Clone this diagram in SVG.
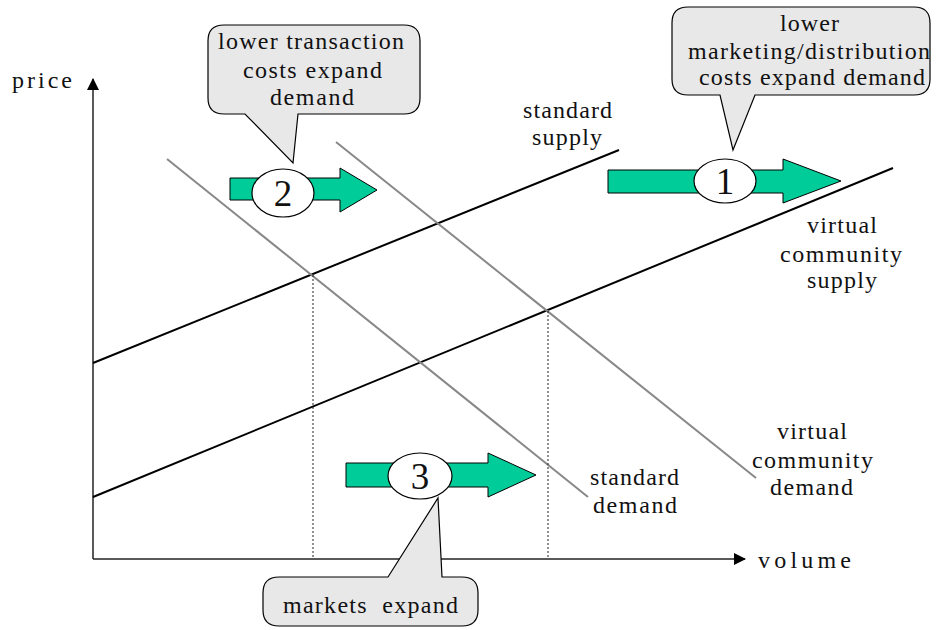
<svg xmlns="http://www.w3.org/2000/svg" width="937" height="630" viewBox="0 0 937 630">
<defs>
<style>
text{font-family:"Liberation Serif","Times New Roman",serif;fill:#111;font-size:24px}
.num{font-size:37px;text-anchor:middle}
.axis{stroke:#222;stroke-width:1.5;fill:none}
.supply{stroke:#000;stroke-width:2;fill:none}
.demand{stroke:#888;stroke-width:2;fill:none}
.drop{stroke:#222;stroke-width:1;stroke-dasharray:2,2;fill:none}
.arrow{fill:#00CC99;stroke:#000;stroke-width:1}
.badge{fill:#fff;stroke:#000;stroke-width:1.2}
.callout{fill:#E8E8E8;stroke:#000;stroke-width:1.2}
</style>
<marker id="ah" viewBox="0 0 12 12" refX="11" refY="6" markerWidth="12" markerHeight="12" markerUnits="userSpaceOnUse" orient="auto">
<path d="M0,0 L12,6 L0,12 Z" fill="#000"/>
</marker>
</defs>
<rect width="937" height="630" fill="#fff"/>
<g id="axes">
<line class="axis" x1="93" y1="559" x2="93" y2="79" marker-end="url(#ah)"/>
<line class="axis" x1="93" y1="559" x2="745" y2="559" marker-end="url(#ah)"/>
<text x="12" y="88" textLength="60">price</text>
<text x="758" y="568" textLength="93">volume</text>
</g>
<g id="connectors">
<line id="standard-supply" class="supply" x1="93" y1="363" x2="619" y2="150"/>
<line id="vc-supply" class="supply" x1="93" y1="497" x2="893" y2="168"/>
<line id="standard-demand" class="demand" x1="167" y1="159" x2="588" y2="497"/>
<line id="vc-demand" class="demand" x1="336" y1="142" x2="756" y2="478"/>
<line class="drop" x1="313" y1="275" x2="313" y2="559"/>
<line class="drop" x1="548" y1="311" x2="548" y2="559"/>
</g>
<g id="label-standard-supply">
<text x="523" y="118" textLength="89">standard</text>
<text x="532" y="145" textLength="70">supply</text>
</g>
<g id="label-vc-supply">
<text x="807" y="233" textLength="70">virtual</text>
<text x="780" y="262" textLength="122">community</text>
<text x="807" y="288" textLength="70">supply</text>
</g>
<g id="label-vc-demand">
<text x="777" y="439" textLength="70">virtual</text>
<text x="752" y="468" textLength="121">community</text>
<text x="770" y="495" textLength="83">demand</text>
</g>
<g id="label-standard-demand">
<text x="590" y="485" textLength="89">standard</text>
<text x="593" y="513" textLength="84">demand</text>
</g>
<g id="shift-2">
<polygon class="arrow" points="230,178 340,178 340,168 377,190 340,212 340,200 230,200"/>
<ellipse class="badge" cx="283" cy="193" rx="31" ry="24"/>
<text class="num" x="283" y="206">2</text>
</g>
<g id="shift-1">
<polygon class="arrow" points="608,170 783,170 783,159 841,181 783,203 783,193 608,193"/>
<ellipse class="badge" cx="725" cy="181" rx="31" ry="22"/>
<text class="num" x="725" y="194">1</text>
</g>
<g id="shift-3">
<polygon class="arrow" points="346,463 488,463 488,453 536,475 488,497 488,487 346,487"/>
<ellipse class="badge" cx="420" cy="476" rx="32" ry="23"/>
<text class="num" x="420" y="489">3</text>
</g>
<g id="callout-2">
<path class="callout" d="M224,25 H404 Q420,25 420,41 V98 Q420,114 404,114 H298 L293,163 L245,114 H224 Q208,114 208,98 V41 Q208,25 224,25 Z"/>
<text x="218" y="49" textLength="186">lower transaction</text>
<text x="243" y="78" textLength="139">costs expand</text>
<text x="270" y="105" textLength="84">demand</text>
</g>
<g id="callout-1">
<path class="callout" d="M688,7 H914 Q930,7 930,23 V79 Q930,95 914,95 H755 L733,150 L720,95 H688 Q672,95 672,79 V23 Q672,7 688,7 Z"/>
<text x="780" y="31" textLength="59">lower</text>
<text x="688" y="59" textLength="242">marketing/distribution</text>
<text x="699" y="85" textLength="226">costs expand demand</text>
</g>
<g id="callout-3">
<path class="callout" d="M279,577 H388 L438,498 L442,577 H462 Q478,577 478,593 V610 Q478,626 462,626 H279 Q263,626 263,610 V593 Q263,577 279,577 Z"/>
<text x="283" y="613" textLength="175" xml:space="preserve">markets  expand</text>
</g>
</svg>
